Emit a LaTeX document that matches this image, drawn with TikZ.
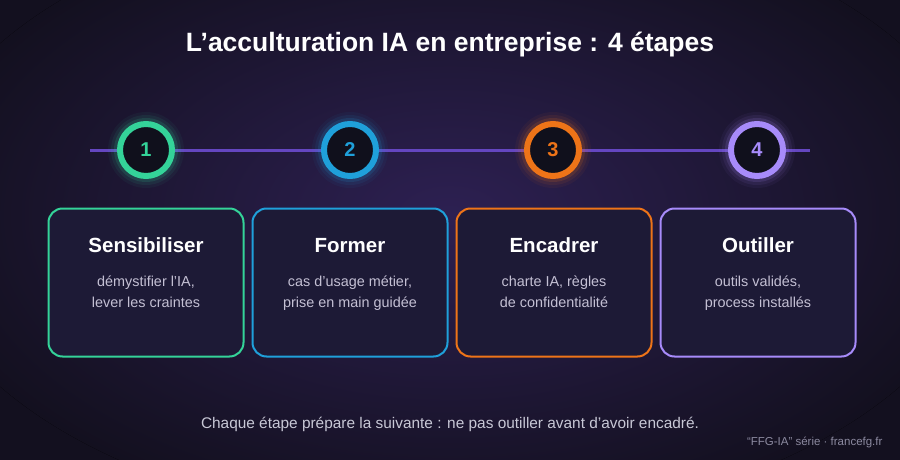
\documentclass[tikz,border=0pt]{standalone}
\usepackage{fontspec}
\setmainfont{Liberation Sans}
\usetikzlibrary{positioning}
\definecolor{bgdark}{HTML}{13101F}
\definecolor{bgglow}{HTML}{2D2052}
\definecolor{boxfill}{HTML}{1D1A36}
\definecolor{circfill}{HTML}{10101C}
\definecolor{linecol}{HTML}{6446C0}
\definecolor{cgreen}{HTML}{34D399}
\definecolor{cblue}{HTML}{1FA0DA}
\definecolor{corange}{HTML}{EE7418}
\definecolor{cpurple}{HTML}{A78BFA}
\definecolor{subtxt}{HTML}{C4C0D4}
\definecolor{foottxt}{HTML}{C8C8D6}
\definecolor{credtxt}{HTML}{8C8AA0}
\tikzset{
  stepcircle/.style={circle, draw=#1, line width=6pt, fill=circfill, minimum size=52pt, inner sep=0pt,
    text=#1, font=\fontsize{20}{22}\selectfont\bfseries},
  stepcard/.style={rounded corners=14pt, draw=#1, line width=2pt, fill=boxfill, minimum width=195pt, minimum height=148pt},
  cardtitle/.style={text=white, font=\fontsize{20.5}{23}\selectfont\bfseries, anchor=base},
  cardtext/.style={text=subtxt, font=\fontsize{14.4}{21}\selectfont, align=center, anchor=north},
}
\begin{document}
\begin{tikzpicture}[x=1pt,y=-1pt]
\useasboundingbox (0,0) rectangle (900,460);
\fill[bgdark] (0,0) rectangle (900,460);
\fill[inner color=bgglow, outer color=bgdark] (450,215) ellipse (540 and 310);
\node[text=white, font=\fontsize{26.5}{30}\selectfont\bfseries] (title) at (450,45) {L’acculturation IA en entreprise : 4 étapes};
% timeline
\coordinate (tlstart) at (90,150);
\coordinate (tlend) at (810,150);
\draw[linecol, line width=3pt] (tlstart) -- (tlend);
% glows
\foreach \x/\c in {146/cgreen,350/cblue,553/corange,757/cpurple}{
  \foreach \r/\o in {38/0.05,35/0.08,32/0.14}{
    \fill[\c, opacity=\o] (\x,150) circle (\r);
  }
}
\node[stepcircle=cgreen] (c1) at (146,150) {1};
\node[stepcircle=cblue] (c2) at (350,150) {2};
\node[stepcircle=corange] (c3) at (553,150) {3};
\node[stepcircle=cpurple] (c4) at (757,150) {4};
% cards
\node[stepcard=cgreen] (b1) at (146,282.5) {};
\node[stepcard=cblue] (b2) at (350,282.5) {};
\node[stepcard=corange] (b3) at (554,282.5) {};
\node[stepcard=cpurple] (b4) at (758,282.5) {};
\node[cardtitle] (t1) at (146,252) {Sensibiliser};
\node[cardtitle] (t2) at (350,252) {Former};
\node[cardtitle] (t3) at (554,252) {Encadrer};
\node[cardtitle] (t4) at (758,252) {Outiller};
\node[cardtext] (d1) at (146,268) {\strut démystifier l’IA,\\lever les craintes\strut};
\node[cardtext] (d2) at (350,268) {\strut cas d’usage métier,\\prise en main guidée\strut};
\node[cardtext] (d3) at (554,268) {\strut charte IA, règles\\de confidentialité\strut};
\node[cardtext] (d4) at (758,268) {\strut outils validés,\\process installés\strut};
% footer
\node[text=foottxt, font=\fontsize{15.4}{17}\selectfont] (foot) at (450,424) {Chaque étape prépare la suivante : ne pas outiller avant d’avoir encadré.};
\node[text=credtxt, font=\fontsize{11.5}{13}\selectfont, anchor=east] (cred) at (886,442) {“FFG-IA” série · francefg.fr};
\end{tikzpicture}
\end{document}
